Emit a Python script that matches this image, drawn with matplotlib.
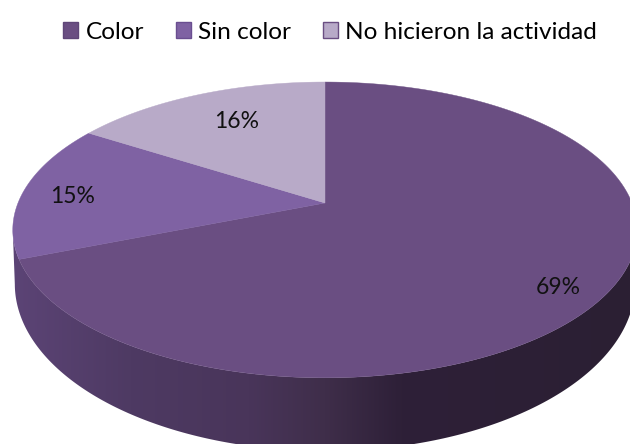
import numpy as np
import matplotlib.pyplot as plt
from matplotlib.colors import LinearSegmentedColormap
from matplotlib.patches import Patch, Polygon

# datos
categorias = ['Color', 'Sin color', 'No hicieron la actividad']
valores = [69, 15, 16]
etiquetas = ['69%', '15%', '16%']

colores = ['#6a4e82', '#7f62a3', '#b8aac8']
bordes = ['#5f4678', '#6a4e90', '#6a4e82']

# geometria del pastel en pixeles
CX, CY = 325, 203
A, B, K = 143.0, 307.0, 0.182
# borde inferior de la pared (mas abierto por la perspectiva)
A_INF, B_INF, DY_INF = 161.5, 305.0, 50.6


def proyectar(ang_deg, a=A, b=B, dy=0.0):
    """angulo horario desde arriba -> pixel, con perspectiva"""
    t = np.deg2rad(ang_deg)
    u = np.sin(t)
    v = -np.cos(t)
    d = 1 - K * v
    return CX + b * u / d, CY + dy + a * v / d


plt.rcParams['font.family'] = ['Lato', 'DejaVu Sans']

fig = plt.figure(figsize=(6.3, 4.44), dpi=100)
ax = fig.add_axes([0, 0, 1, 1])
ax.set_xlim(0, 630)
ax.set_ylim(444, 0)
ax.axis('off')

# pared lateral con degradado
t_frente = np.linspace(100.5, 259.5, 200)
x_sup, y_sup = proyectar(t_frente)
x_inf, y_inf = proyectar(t_frente, A_INF, B_INF, DY_INF)
contorno = np.column_stack([np.r_[x_sup, x_inf[::-1]], np.r_[y_sup, y_inf[::-1]]])
cmap_pared = LinearSegmentedColormap.from_list(
    'pared', [(0, '#5c4476'), (0.19, '#4e3a63'), (0.38, '#49355a'),
              (0.5, '#3f2e4a'), (0.62, '#2e2038'), (1, '#2b1f33')])
img = ax.imshow(np.linspace(0, 1, 256).reshape(1, -1), cmap=cmap_pared,
                extent=[10, 640, 444, 200], aspect='auto', zorder=1)
img.set_clip_path(Polygon(contorno, closed=True, transform=ax.transData))
ax.set_xlim(0, 630)
ax.set_ylim(444, 0)

# cara superior: sentido horario desde arriba
ini = 0.0
for val, col in zip(valores, colores):
    fin = ini + val * 3.6
    ang = np.linspace(ini, fin, 200)
    x, y = proyectar(ang)
    ax.fill(np.r_[CX, x], np.r_[CY, y], color=col, lw=0.3, zorder=2)
    ini = fin

# etiquetas
pos_etiquetas = [(558, 287), (73, 196), (237, 121)]
for txt, (px, py) in zip(etiquetas, pos_etiquetas):
    ax.text(px, py, txt, ha='center', va='center', fontsize=16.5,
            color='#111111', zorder=3)

# leyenda
handles = [Patch(facecolor=c, edgecolor=b, linewidth=1.0)
           for c, b in zip(colores, bordes)]
ax.legend(handles, categorias, loc='upper center', bbox_to_anchor=(0.524, 1.0),
          ncol=3, frameon=False, fontsize=17.6, handlelength=0.62, handleheight=0.62,
          handletextpad=0.3, columnspacing=1.3, borderpad=0.4)

fig.savefig('out.png', dpi=100)
